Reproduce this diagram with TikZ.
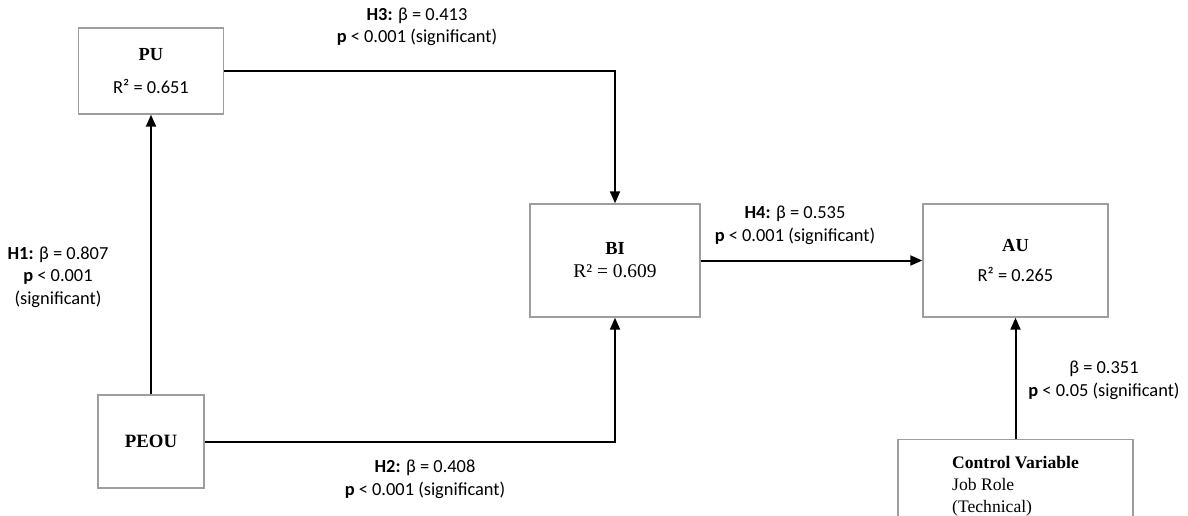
\documentclass[tikz,border=0pt]{standalone}
\usepackage{fontspec}
\setmainfont{Carlito}
\newfontfamily\timesfont{Liberation Serif}
\usetikzlibrary{arrows.meta}

\newcommand{\cname}[1]{{\timesfont\bfseries #1}}

\begin{document}
\begin{tikzpicture}[
    x=0.5pt, y=-0.5pt,
    construct/.style={rectangle, draw=black!38, line width=0.7pt, align=center, inner sep=0pt, font=\fontsize{9.2}{11}\selectfont},
    coef/.style={align=center, inner sep=0pt, font=\fontsize{9.2}{11.3}\selectfont},
    arrow/.style={-{Triangle[length=6pt,width=5pt]}, line width=1pt}
]
    \useasboundingbox (0,0) rectangle (1188,515);

    \node[construct, minimum width=72.5pt, minimum height=43pt] (pu) at (151,71) {\cname{PU}\\[5.5pt] R² = 0.651};
    \node[construct, minimum width=53pt, minimum height=46.5pt] (peou) at (151,441.5) {\cname{\fontsize{9.4}{11}\selectfont PEOU}};
    \node[construct, minimum width=85pt, minimum height=56.5pt] (bi) at (615,260.5) {\cname{BI}\\[0.5pt] {\timesfont\fontsize{9.7}{11}\selectfont R² = 0.609}};
    \node[construct, minimum width=92.5pt, minimum height=56.5pt] (au) at (1015.5,260.5) {\cname{AU}\\[4pt] R² = 0.265};
    \node[construct, anchor=north, minimum width=117.5pt, inner ysep=8.5pt, align=left,
          font=\timesfont\fontsize{8.8}{10.8}\selectfont] (ctrl) at (1015.5,439)
          {\textbf{Control Variable}\\ Job Role\\ (Technical)};

    \draw[arrow] (peou) -- (pu);
    \draw[arrow] (pu.east) -| (bi.north);
    \draw[arrow] (peou.east) -| (bi.south);
    \draw[arrow] (bi) -- (au);
    \draw[arrow] (ctrl) -- (au);

    \node[coef] (h1) at (58,277) {\textbf{H1:} β = 0.807\\ \textbf{p} < 0.001\\ (significant)};
    \node[coef] (h3) at (417,27) {\textbf{H3:} β = 0.413\\ \textbf{p} < 0.001 (significant)};
    \node[coef] (h2) at (425,479) {\textbf{H2:} β = 0.408\\ \textbf{p} < 0.001 (significant)};
    \node[coef] (h4) at (795,225.5) {\textbf{H4:} β = 0.535\\ \textbf{p} < 0.001 (significant)};
    \node[coef] (hc) at (1104,380) {β = 0.351\\ \textbf{p} < 0.05 (significant)};
\end{tikzpicture}
\end{document}
